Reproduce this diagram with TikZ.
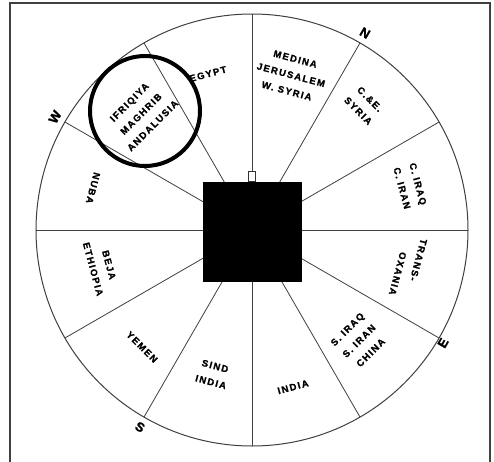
\documentclass[tikz,border=0pt]{standalone}
\usepackage{fontspec}
\setmainfont{Liberation Sans}
\newfontfamily\lblfont{Liberation Sans Bold}[LetterSpace=15, FakeBold=1.2]
\newfontfamily\cmpfont{Liberation Sans Bold}[FakeBold=1.5]
\begin{document}
\begin{tikzpicture}[x=1pt,y=1pt,
  radial/.style={draw=black!75, line width=0.8pt},
  lbl/.style={font=\lblfont\fontsize{9.5}{16.5}\selectfont, align=center, inner sep=0pt, text=black},
  cmp/.style={font=\cmpfont\fontsize{13}{13}\selectfont, inner sep=0pt, text=black}]
\useasboundingbox (-252,-231) rectangle (242,230);
\fill[white] (-252,-231) rectangle (242,230);
\draw[black!75, line width=1.5pt] (-242,-235) -- (-242,227) -- (238,227) -- (238,-235);
\coordinate (C) at (0,0);
\foreach \a in {0,30,...,330} { \coordinate (r\a) at (\a:216); }
\draw[black!75, line width=1pt] (C) circle[radius=216];
\foreach \a in {0,30,60,120,150,180,210,240,270,300,330} { \draw[radial] (C) -- (r\a); }
\node[fill=black, minimum width=99pt, minimum height=100pt, inner sep=0pt] (kaaba) at (0.5,-2) {};
\node[draw=black!80, fill=white, line width=0.8pt, minimum width=7pt, minimum height=10pt, inner sep=0pt, anchor=south] (tab) at (0,48) {};
\draw[radial] (tab.north) -- (r90);
% labels
\node[lbl, rotate=-15] (medina) at (39,155) {MEDINA\\JERUSALEM\\W. SYRIA};
\node[lbl, rotate=-45] (syria) at (112,125) {C.\&E.\\SYRIA};
\node[lbl, rotate=-75] (ciraq) at (158,44) {C. IRAQ\\C. IRAN};
\node[lbl, rotate=-105, align=left] (trans) at (156,-37) {TRANS-\\\hspace*{18pt}OXANIA};
\node[lbl, rotate=45] (siraq) at (107,-111) {S. IRAQ\\S. IRAN\\CHINA};
\node[lbl, rotate=15] (india) at (41,-157) {INDIA};
\node[lbl, rotate=-15] (sind) at (-39,-144) {SIND\\INDIA};
\node[lbl, rotate=-45] (yemen) at (-110,-117) {YEMEN};
\node[lbl, rotate=-75] (beja) at (-151,-37) {BEJA\\ETHIOPIA};
\node[lbl, rotate=-105] (nuba) at (-159,42) {NUBA};
\node[lbl, rotate=45] (ifriqiya) at (-111,116) {IFRIQIYA\\MAGHRIB\\ANDALUSIA};
\node[lbl, rotate=15] (egypt) at (-44,156) {EGYPT};
% compass
\node[cmp, rotate=-30] (N) at (113,197) {N};
\node[cmp, rotate=60] (E) at (191,-113) {E};
\node[cmp, rotate=-30] (S) at (-112,-197) {S};
\node[cmp, rotate=60] (W) at (-197,113) {W};
% highlight
\node[circle, draw=black, line width=4pt, minimum size=110pt, inner sep=0pt] (hl) at (-107,119) {};
\end{tikzpicture}
\end{document}
